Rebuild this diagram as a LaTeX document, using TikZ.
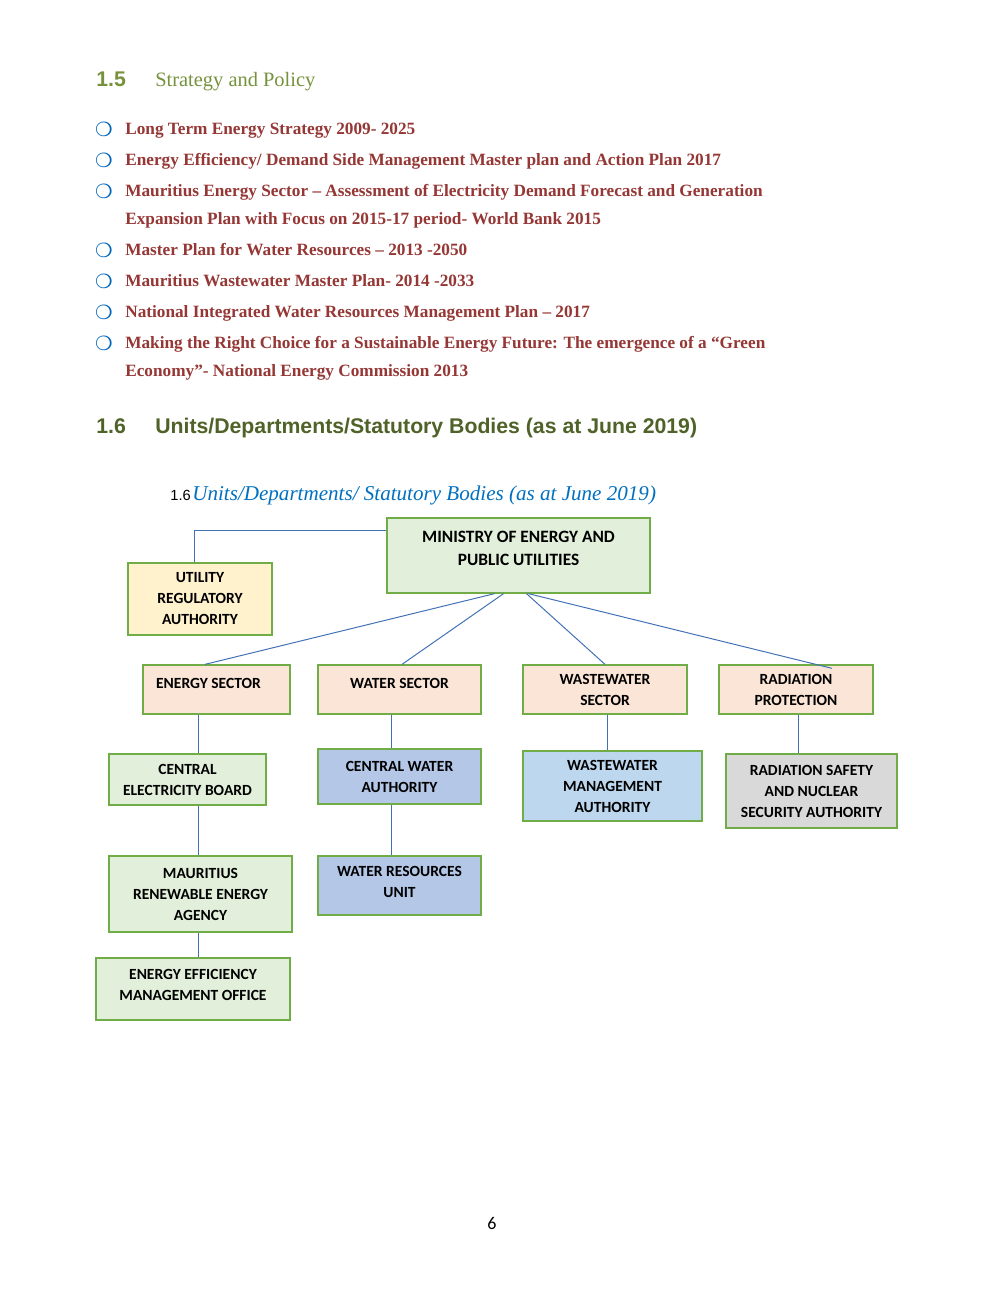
\documentclass[tikz,border=0pt]{standalone}
\usepackage{fontspec}
\setmainfont{Liberation Serif}
\newfontfamily\boxfont{Carlito}
\newfontfamily\arialf{Liberation Sans}
\newfontfamily\dejavu{DejaVu Sans}
\usetikzlibrary{calc}
\definecolor{redtxt}{RGB}{149,55,53}
\definecolor{grnA}{RGB}{118,146,60}
\definecolor{grnB}{RGB}{79,98,40}
\definecolor{bulblue}{RGB}{0,102,190}
\definecolor{capblue}{RGB}{0,112,192}
\definecolor{lnblue}{RGB}{65,113,180}
\definecolor{bordgreen}{RGB}{112,173,71}
\definecolor{fgreen}{RGB}{226,239,218}
\definecolor{fyellow}{RGB}{255,242,204}
\definecolor{fpeach}{RGB}{251,229,214}
\definecolor{fblue}{RGB}{180,199,231}
\definecolor{flblue}{RGB}{189,215,238}
\definecolor{fgray}{RGB}{217,217,217}
\newcommand\liftbox[3]{\raisebox{#2}[\height][\depth]{\kern#1\begin{tabular}{@{}c@{}}#3\end{tabular}\kern-#1}}
\begin{document}
\begin{tikzpicture}[x=0.612pt,y=-0.612pt,
  box/.style 2 args={draw=bordgreen, line width=0.8pt, inner sep=0pt,
     minimum width=#1*0.612pt, minimum height=#2*0.612pt, align=center,
     font=\boxfont\bfseries\fontsize{9.5}{12.85}\selectfont},
  conn/.style={draw=lnblue, line width=0.6pt},
  item/.style={anchor=base west, inner sep=0pt, text=redtxt,
     font=\bfseries\fontsize{10.55}{13}\selectfont},
  bul/.style={anchor=center, inner sep=0pt, text=bulblue, font=\dejavu\fontsize{12}{14}\selectfont}
]
\useasboundingbox[fill=white] (0,0) rectangle (1000,1294);

% headings
\node[anchor=base west, inner sep=0pt, text=grnA, font=\arialf\bfseries\fontsize{13}{15}\selectfont] (h15n) at (96,86) {1.5};
\node[anchor=base west, inner sep=0pt, text=grnA, font=\fontsize{12.5}{15}\selectfont] (h15t) at (155,86) {Strategy and Policy};

% bullets
\foreach \y/\n in {129/b1,160/b2,191/b3,250/b5,281/b6,312/b7,343/b8}{
  \node[bul] (\n) at (104,\y) {❍};
}
\node[item] (t1) at (125,134) {Long Term Energy Strategy 2009- 2025};
\node[item] (t2) at (125,165) {Energy Efficiency/ Demand Side Management Master plan and Action Plan 2017};
\node[item] (t3) at (125,196) {Mauritius Energy Sector – Assessment of Electricity Demand Forecast and Generation};
\node[item] (t4) at (125,224) {Expansion Plan with Focus on 2015-17 period- World Bank 2015};
\node[item] (t5) at (125,255) {Master Plan for Water Resources – 2013 -2050};
\node[item] (t6) at (125,286) {Mauritius Wastewater Master Plan- 2014 -2033};
\node[item] (t7) at (125,317) {National Integrated Water Resources Management Plan – 2017};
\node[item] (t8) at (125,348) {Making the Right Choice for a Sustainable Energy Future: The emergence of a “Green};
\node[item] (t9) at (125,376) {Economy”- National Energy Commission 2013};

\node[anchor=base west, inner sep=0pt, text=grnB, font=\arialf\bfseries\fontsize{13}{16}\selectfont] (h16n) at (96,433) {1.6};
\node[anchor=base west, inner sep=0pt, text=grnB, font=\arialf\bfseries\fontsize{13}{16}\selectfont] (h16t) at (155,433) {Units/Departments/Statutory Bodies (as at June 2019)};

% caption
\node[anchor=base west, inner sep=0pt, font=\arialf\fontsize{9}{11}\selectfont] (c1) at (170,500) {1.6};
\node[anchor=base west, inner sep=0pt, text=capblue, font=\itshape\fontsize{12.9}{14}\selectfont] (c2) at (192,500) {Units/Departments/ Statutory Bodies (as at June 2019)};

% boxes
\node[box={263}{75}, fill=fgreen, font=\boxfont\bfseries\fontsize{10.6}{14.1}\selectfont] (min) at (518.5,555.5) {\liftbox{0pt}{3.7pt}{MINISTRY OF ENERGY AND\\PUBLIC UTILITIES}};
\node[box={144}{72}, fill=fyellow] (ura) at (200,599) {UTILITY\\REGULATORY\\AUTHORITY};
\node[box={147}{49}, fill=fpeach] (en) at (216.5,689.5) {\liftbox{-4.9pt}{3.4pt}{ENERGY SECTOR}};
\node[box={163}{49}, fill=fpeach] (wa) at (399.5,689.5) {\liftbox{0pt}{3.4pt}{WATER SECTOR}};
\node[box={164}{49}, fill=fpeach] (ww) at (605,689.5) {WASTEWATER\\SECTOR};
\node[box={154}{49}, fill=fpeach] (rad) at (796,689.5) {RADIATION\\PROTECTION};
\node[box={157}{51}, fill=fgreen] (ceb) at (187.5,779.5) {CENTRAL\\ELECTRICITY BOARD};
\node[box={163}{55}, fill=fblue] (cwa) at (399.5,776.5) {CENTRAL WATER\\AUTHORITY};
\node[box={179}{70}, fill=flblue] (wma) at (612.5,786) {WASTEWATER\\MANAGEMENT\\AUTHORITY};
\node[box={171}{74}, fill=fgray] (rs) at (811.5,791) {RADIATION SAFETY\\AND NUCLEAR\\SECURITY AUTHORITY};
\node[box={183}{76}, fill=fgreen] (mrea) at (200.5,894) {MAURITIUS\\RENEWABLE ENERGY\\AGENCY};
\node[box={163}{59}, fill=fblue] (wru) at (399.5,885.5) {\liftbox{0pt}{1.8pt}{WATER RESOURCES\\UNIT}};
\node[box={194}{62}, fill=fgreen] (ee) at (193,989) {\liftbox{0pt}{2.1pt}{ENERGY EFFICIENCY\\MANAGEMENT OFFICE}};

% connectors
\draw[conn] ($(min.north west)+(0,13)$) -| ($(ura.north)+(-6,0)$);
\draw[conn] ($(min.south)+(-24,0)$) -- ($(en.north)+(-11.5,0)$);
\draw[conn] ($(min.south)+(-15,0)$) -- ($(wa.north)+(2.5,0)$);
\draw[conn] ($(min.south)+(8,0)$) -- (ww.north);
\draw[conn] ($(min.south)+(10,0)$) -- ($(rad.north)+(36,4)$);
\draw[conn] ($(en.south)+(-18.5,0)$) coordinate (e1) -- (e1 |- ceb.north);
\draw[conn] ($(ceb.south)+(10.5,0)$) coordinate (e2) -- (e2 |- mrea.north);
\draw[conn] ($(mrea.south)+(-2.5,0)$) coordinate (e3) -- (e3 |- ee.north);
\draw[conn] ($(wa.south)+(-8.5,0)$) coordinate (w1) -- (w1 |- cwa.north);
\draw[conn] ($(cwa.south)+(-8.5,0)$) coordinate (w2) -- (w2 |- wru.north);
\draw[conn] ($(ww.south)+(2,0)$) coordinate (x1) -- (x1 |- wma.north);
\draw[conn] ($(rad.south)+(2,0)$) coordinate (r1) -- (r1 |- rs.north);

% page number
\node[anchor=base, inner sep=0pt, font=\boxfont\fontsize{11}{13}\selectfont] (pg) at (492,1229) {6};
\end{tikzpicture}
\end{document}
